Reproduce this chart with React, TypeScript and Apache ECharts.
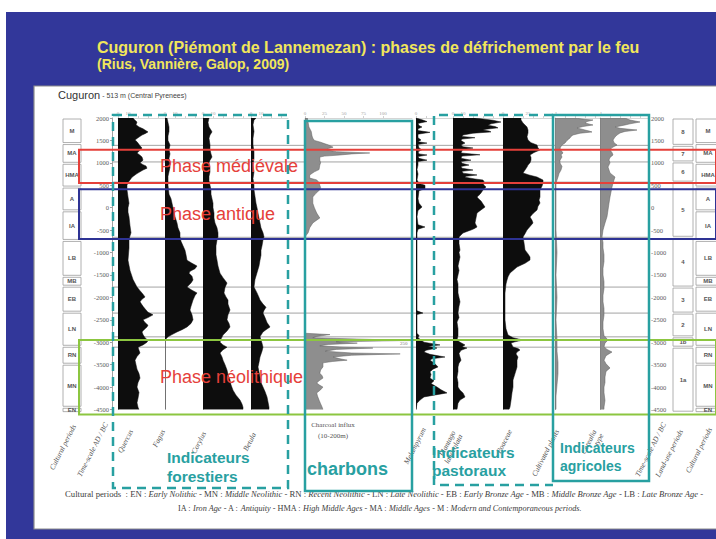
import { useEffect, useRef } from 'react';
import * as echarts from 'echarts';

// ---- time scale (cal. years AD / BC) ----
const TIME_MAX = 2000;
const TIME_MIN = -4500;
const TIME_STEP = 500;

// ---- curves: [age, value] ----
const quercus = [
  [2000, 15], [1950, 17], [1910, 19], [1850, 18], [1800, 21], [1760, 25], [1730, 27], [1690, 30], [1650, 27], [1620, 24],
  [1560, 20], [1510, 17], [1470, 19], [1440, 20], [1380, 22], [1330, 24], [1280, 22], [1220, 19], [1170, 22], [1130, 24],
  [1060, 25], [1000, 22], [960, 25], [930, 28], [880, 29], [840, 25], [800, 22], [760, 19], [730, 17], [680, 14],
  [620, 12], [560, 10], [500, 9], [400, 9], [240, 10], [100, 11], [0, 10], [-100, 10], [-200, 11], [-400, 12],
  [-560, 13], [-700, 11], [-900, 11], [-1170, 10], [-1400, 12], [-1600, 15], [-1770, 19], [-1850, 22], [-1930, 25], [-1990, 27],
  [-2040, 24], [-2100, 22], [-2200, 25], [-2280, 28], [-2330, 30], [-2390, 35], [-2450, 30], [-2500, 25], [-2560, 27], [-2620, 30],
  [-2660, 29], [-2720, 26], [-2770, 24], [-2830, 25], [-2900, 27], [-2960, 30], [-3000, 29], [-3060, 25], [-3110, 20], [-3180, 21],
  [-3240, 22], [-3320, 19], [-3400, 17], [-3500, 18], [-3600, 19], [-3700, 21], [-3800, 22], [-3900, 20], [-4000, 19], [-4120, 21],
  [-4250, 20], [-4350, 19], [-4450, 20], [-4500, 21],
];
const fagus = [
  [2000, 2], [1900, 3], [1800, 4], [1700, 4], [1600, 3], [1500, 3], [1400, 5], [1300, 4], [1200, 5], [1100, 4],
  [1000, 5], [900, 5], [800, 4], [700, 3], [500, 3], [300, 4], [200, 6], [100, 7], [0, 8], [-100, 9],
  [-200, 10], [-340, 12], [-450, 13], [-560, 15], [-650, 15], [-750, 16], [-850, 18], [-950, 20], [-1050, 21], [-1170, 22],
  [-1240, 27], [-1300, 32], [-1360, 30], [-1420, 25], [-1460, 24], [-1530, 27], [-1610, 28], [-1680, 26], [-1770, 22], [-1840, 27],
  [-1900, 32], [-1960, 30], [-2060, 28], [-2200, 26], [-2280, 25], [-2390, 27], [-2500, 28], [-2580, 26], [-2660, 22], [-2720, 17],
  [-2770, 12], [-2830, 7], [-2880, 3], [-2950, 0], [-4500, 0],
];
const corylus = [
  [2000, 6], [1900, 5], [1800, 6], [1730, 8], [1690, 9], [1620, 7], [1550, 6], [1400, 7], [1300, 7], [1200, 8],
  [1130, 9], [1060, 7], [1000, 6], [900, 7], [800, 7], [700, 6], [600, 6], [500, 7], [400, 8], [300, 8],
  [200, 9], [100, 10], [0, 10], [-120, 11], [-230, 11], [-340, 12], [-450, 14], [-560, 15], [-650, 15], [-720, 14],
  [-850, 13], [-1050, 13], [-1170, 14], [-1300, 15], [-1460, 17], [-1560, 20], [-1680, 24], [-1780, 22], [-1900, 21], [-1990, 23],
  [-2060, 25], [-2150, 25], [-2280, 27], [-2390, 25], [-2500, 24], [-2580, 26], [-2660, 27], [-2750, 24], [-2840, 20], [-2930, 18],
  [-3000, 17], [-3060, 20], [-3110, 24], [-3170, 20], [-3240, 17], [-3330, 19], [-3400, 20], [-3500, 22], [-3620, 24], [-3720, 25],
  [-3840, 27], [-3950, 28], [-4070, 30], [-4180, 33], [-4290, 37], [-4380, 39], [-4450, 40], [-4500, 40],
];
const betula = [
  [2000, 5], [1950, 3], [1850, 2], [1700, 3], [1550, 2], [1400, 2], [1250, 3], [1100, 3], [950, 2], [800, 3],
  [650, 2], [500, 3], [400, 3], [250, 4], [100, 5], [0, 6], [-120, 7], [-230, 8], [-340, 9], [-450, 10],
  [-560, 12], [-650, 13], [-720, 12], [-850, 11], [-950, 10], [-1060, 10], [-1170, 9], [-1300, 8], [-1450, 6], [-1600, 4],
  [-1770, 3], [-1900, 6], [-2000, 8], [-2060, 9], [-2150, 12], [-2220, 15], [-2290, 13], [-2350, 12], [-2450, 14], [-2560, 16],
  [-2660, 19], [-2720, 15], [-2770, 12], [-2840, 10], [-2880, 9], [-2950, 10], [-3020, 11], [-3110, 12], [-3200, 11], [-3330, 9],
  [-3450, 8], [-3550, 7], [-3660, 8], [-3780, 9], [-3900, 10], [-4000, 12], [-4100, 14], [-4220, 16], [-4330, 17], [-4450, 18],
  [-4500, 18],
];
const charcoal = [
  [2000, 3], [1900, 4], [1800, 5], [1700, 8], [1600, 9], [1550, 10], [1500, 12], [1460, 20], [1440, 23], [1400, 30],
  [1350, 36], [1320, 30], [1290, 28], [1250, 40], [1220, 83], [1200, 60], [1175, 45], [1150, 25], [1130, 19], [1060, 19],
  [1000, 20], [950, 19], [850, 18], [800, 12], [730, 6], [660, 6], [620, 15], [560, 18], [500, 19], [450, 20],
  [400, 19], [320, 14], [240, 10], [100, 10], [0, 12], [-120, 15], [-230, 19], [-290, 14], [-340, 10], [-450, 6],
  [-560, 4], [-650, 0], [-2800, 0], [-2830, 32], [-2870, 15], [-2900, 10], [-2940, 90], [-2950, 250], [-2965, 120], [-2990, 40],
  [-3020, 67], [-3050, 30], [-3080, 19], [-3110, 50], [-3130, 87], [-3160, 40], [-3200, 26], [-3240, 60], [-3260, 122], [-3290, 60],
  [-3330, 36], [-3370, 45], [-3400, 54], [-3430, 35], [-3460, 23], [-3550, 23], [-3620, 20], [-3690, 19], [-3750, 22], [-3800, 23],
  [-3860, 18], [-3910, 15], [-3960, 19], [-4000, 23], [-4060, 20], [-4130, 15], [-4200, 16], [-4290, 18], [-4370, 20], [-4450, 22],
  [-4500, 23],
];
const melampyrum = [
  [2000, 0], [1960, 6], [1920, 11], [1880, 2], [1830, 3], [1800, 6], [1760, 2], [1720, 2], [1680, 14], [1640, 2],
  [1560, 2], [1510, 5], [1470, 2], [1440, 11], [1410, 2], [1330, 3], [1290, 6], [1250, 2], [1200, 3], [1175, 11],
  [1140, 2], [1100, 3], [1060, 11], [1030, 2], [950, 2], [850, 1], [750, 2], [620, 1], [540, 3], [500, 9],
  [420, 9], [380, 3], [200, 2], [100, 3], [15, 6], [-60, 2], [-200, 1], [-380, 2], [-430, 9], [-480, 2],
  [-560, 1], [-2300, 1], [-2350, 7], [-2380, 1], [-2800, 1], [-2850, 3], [-2900, 2], [-2950, 5], [-3000, 8], [-3060, 24],
  [-3090, 12], [-3130, 21], [-3180, 10], [-3220, 8], [-3270, 14], [-3330, 29], [-3370, 16], [-3400, 14], [-3460, 18], [-3550, 22],
  [-3600, 17], [-3660, 14], [-3720, 15], [-3800, 14], [-3860, 18], [-3920, 15], [-4000, 21], [-4060, 25], [-4130, 31], [-4180, 18],
  [-4220, 8], [-4290, 4], [-4360, 1], [-4500, 0],
];
const plantago = [
  [2000, 22], [1950, 40], [1910, 48], [1870, 38], [1840, 35], [1810, 42], [1780, 45], [1750, 33], [1730, 30], [1710, 36],
  [1690, 38], [1660, 20], [1620, 10], [1590, 9], [1560, 22], [1530, 9], [1500, 8], [1440, 12], [1400, 8], [1360, 10],
  [1330, 20], [1300, 10], [1270, 9], [1220, 8], [1180, 27], [1150, 9], [1100, 8], [1060, 18], [1030, 8], [990, 9],
  [950, 16], [920, 8], [880, 9], [840, 20], [810, 9], [770, 10], [730, 24], [700, 13], [680, 12], [640, 22],
  [617, 30], [580, 31], [550, 30], [500, 31], [461, 33], [420, 31], [394, 30], [330, 28], [300, 27], [238, 24],
  [190, 26], [150, 28], [80, 30], [15, 32], [-50, 28], [-118, 24], [-230, 23], [-341, 22], [-430, 24], [-470, 21],
  [-498, 18], [-530, 14], [-565, 10], [-610, 8], [-654, 6], [-800, 6], [-944, 7], [-1000, 6], [-1100, 7], [-1200, 6],
  [-1300, 5], [-1400, 6], [-1500, 5], [-1600, 4], [-1700, 5], [-1900, 5], [-2000, 6], [-2100, 7], [-2200, 6], [-2350, 5],
  [-2450, 6], [-2550, 4], [-2700, 5], [-2850, 5], [-2950, 4], [-3000, 7], [-3060, 12], [-3100, 9], [-3130, 14], [-3180, 8],
  [-3250, 6], [-3330, 7], [-3400, 8], [-3470, 6], [-3550, 5], [-3650, 5], [-3780, 4], [-3900, 5], [-4000, 5], [-4070, 7],
  [-4130, 10], [-4220, 12], [-4290, 7], [-4360, 5], [-4500, 4],
];
const poaceae = [
  [2000, 18], [1955, 18], [1889, 20], [1800, 24], [1732, 25], [1666, 25], [1580, 24], [1509, 25], [1450, 28], [1398, 34],
  [1330, 35], [1286, 37], [1230, 31], [1175, 27], [1120, 28], [1063, 28], [1000, 27], [950, 25], [907, 24], [840, 22],
  [774, 20], [730, 26], [684, 34], [650, 37], [617, 40], [550, 40], [480, 39], [394, 37], [300, 37], [238, 37],
  [170, 36], [104, 37], [30, 35], [-52, 34], [-130, 30], [-208, 27], [-280, 29], [-341, 30], [-420, 27], [-498, 24],
  [-580, 22], [-654, 20], [-780, 21], [-944, 22], [-1030, 25], [-1100, 27], [-1167, 27], [-1240, 22], [-1323, 14], [-1400, 10],
  [-1457, 7], [-1540, 5], [-1613, 4], [-1700, 3], [-1903, 2], [-2200, 2], [-2505, 2], [-2700, 3], [-2839, 5], [-2900, 10],
  [-2951, 20], [-2990, 12], [-3018, 8], [-3060, 9], [-3107, 10], [-3140, 15], [-3174, 17], [-3220, 14], [-3260, 13], [-3330, 15],
  [-3400, 14], [-3553, 14], [-3700, 12], [-3843, 10], [-4000, 10], [-4125, 9], [-4300, 8], [-4445, 7], [-4500, 6],
];
const cultivated = [
  [2000, 20], [1970, 30], [1955, 38], [1920, 32], [1889, 30], [1860, 35], [1844, 38], [1810, 28], [1777, 22], [1750, 27],
  [1732, 30], [1710, 34], [1688, 37], [1660, 25], [1621, 18], [1590, 16], [1554, 15], [1500, 12], [1442, 10], [1400, 7],
  [1331, 5], [1280, 6], [1220, 8], [1180, 6], [1130, 7], [1060, 5], [996, 5], [920, 7], [840, 6], [760, 4],
  [684, 3], [617, 2], [550, 1], [300, 1], [0, 1], [-500, 1], [-1000, 2], [-1500, 1], [-2000, 2], [-2500, 1],
  [-2950, 2], [-3200, 2], [-3450, 3], [-3700, 3], [-3950, 2], [-4200, 1], [-4500, 1],
];
const cerealia = [
  [2000, 25], [1955, 30], [1911, 40], [1870, 30], [1844, 25], [1800, 15], [1770, 20], [1732, 37], [1700, 25], [1666, 20],
  [1620, 17], [1576, 15], [1509, 13], [1450, 14], [1398, 17], [1340, 12], [1286, 10], [1230, 12], [1175, 13], [1120, 10],
  [1063, 9], [1000, 10], [907, 8], [840, 9], [774, 10], [720, 13], [684, 15], [617, 14], [550, 13], [461, 12],
  [350, 11], [238, 10], [100, 9], [-52, 8], [-200, 7], [-341, 5], [-500, 3], [-654, 2], [-780, 3], [-900, 3],
  [-1050, 4], [-1200, 4], [-1350, 3], [-1500, 3], [-1650, 4], [-1800, 4], [-1950, 3], [-2100, 3], [-2250, 4], [-2400, 4],
  [-2550, 3], [-2700, 3], [-2850, 4], [-2951, 8], [-3020, 5], [-3100, 4], [-3160, 7], [-3219, 12], [-3300, 6], [-3400, 4],
  [-3480, 6], [-3575, 10], [-3650, 6], [-3776, 5], [-3900, 5], [-4000, 4], [-4125, 4], [-4300, 5], [-4445, 4], [-4500, 4],
];

// ---- periods: [label, from, to] ----
const culturalPeriods: [string, number, number][] = [
  ['M', 2000, 1430], ['MA', 1430, 990], ['HMA', 990, 460], ['A', 460, -70], ['IA', -70, -730], ['LB', -730, -1530],
  ['MB', -1530, -1750], ['EB', -1750, -2330], ['LN', -2330, -3090], ['RN', -3090, -3490], ['MN', -3490, -4450], ['EN', -4450, -4570],
];
const landUsePeriods: [string, number, number][] = [
  ['8', 2000, 1390], ['7', 1390, 1020], ['6', 1020, 570], ['5', 570, -660], ['4', -660, -1770],
  ['3', -1770, -2350], ['2', -2350, -2880], ['1b', -2880, -3110], ['1a', -3110, -4560],
];
const zoneBoundaries = [1390, 1020, 570, -660, -1770, -2350, -2880, -3110];
const phases: [string, number, number][] = [
  ['Phase médiévale', 1290, 550],
  ['Phase antique', 410, -700],
  ['Phase néolithique', -2950, -4610],
];

// ---- styling / layout ----
const W = 716;
const H = 539;
const PLOT_TOP = 118;
const PLOT_HEIGHT = 291.5;
const SERIF = '"Liberation Serif", "DejaVu Serif", serif';
const SANS = '"Liberation Sans", Arial, sans-serif';
const NAVY = '#32379a';
const TEAL = '#28a0a1';
const YELLOW = '#f1e65a';
const PHASE_RED = '#e5403a';
const PHASE_COLORS = ['#e5403a', '#2e3394', '#8cc640'];
const INK = '#0d0d0d';
const GREY_FILL = '#8e8e8e';

const panels = [
  { label: ['Quercus'], data: quercus, left: 118, width: 47, pxPerUnit: 1, fill: INK, ticks: [0, 10, 20, 30, 40], tickLabels: [0, 10] },
  { label: ['Fagus'], data: fagus, left: 165, width: 38, pxPerUnit: 1, fill: INK, ticks: [0, 10, 20, 30], tickLabels: [0, 10] },
  { label: ['Corylus'], data: corylus, left: 203, width: 48, pxPerUnit: 1, fill: INK, ticks: [0, 10, 20, 30, 40], tickLabels: [0, 10] },
  { label: ['Betula'], data: betula, left: 251, width: 37, pxPerUnit: 1, fill: INK, ticks: [0, 10, 20, 30], tickLabels: [0, 10] },
  { label: [], data: charcoal, left: 305, width: 107, pxPerUnit: 0.78, fill: GREY_FILL, ticks: [0, 25, 50, 75, 100], tickLabels: [0, 25, 50, 75, 100] },
  { label: ['Melampyrum'], data: melampyrum, left: 416, width: 37, pxPerUnit: 1, fill: INK, ticks: [0, 10], tickLabels: [0] },
  { label: ['Plantago', 'lanceolata'], data: plantago, left: 453, width: 50, pxPerUnit: 1, fill: INK, ticks: [0, 10, 20, 30, 40], tickLabels: [0, 10] },
  { label: ['Poaceae'], data: poaceae, left: 503, width: 50, pxPerUnit: 1, fill: INK, ticks: [0, 10, 20, 30, 40], tickLabels: [0, 25] },
  { label: ['Cultivated plants'], data: cultivated, left: 555, width: 45, pxPerUnit: 1, fill: GREY_FILL, ticks: [0, 10, 20, 30, 40], tickLabels: [0, 1] },
  { label: ['Cerealia', 'type'], data: cerealia, left: 600, width: 48, pxPerUnit: 1, fill: GREY_FILL, ticks: [0, 10, 20, 30, 40], tickLabels: [0, 1] },
];

function timeAxis(gridIndex: number, extra: any = {}) {
  return {
    gridIndex, type: 'value', min: TIME_MIN, max: TIME_MAX, interval: TIME_STEP,
    axisLine: { show: false, onZero: false },
    axisTick: { show: false },
    axisLabel: { show: false },
    splitLine: { show: false },
    ...extra,
  };
}

function buildOption() {
  const grid: any[] = [];
  const xAxis: any[] = [];
  const yAxis: any[] = [];
  const series: any[] = [];
  const gridBox = (left: number, width: number) => ({ left, width, top: PLOT_TOP, height: PLOT_HEIGHT, containLabel: false, outerBoundsMode: 'none' });

  // pollen and charcoal curves
  panels.forEach((p) => {
    const gi = grid.length;
    const xi = xAxis.length;
    const yi = yAxis.length;
    grid.push(gridBox(p.left, p.width));
    xAxis.push({
      gridIndex: gi, type: 'value', min: 0, max: p.width / p.pxPerUnit, position: 'top',
      axisLine: { show: true, onZero: false, lineStyle: { color: '#b8b8b8', width: 0.6 } },
      axisTick: { show: true, length: 2, customValues: p.ticks, lineStyle: { color: '#b0b0b0', width: 0.6 } },
      axisLabel: { show: true, customValues: p.tickLabels, fontSize: 5, color: '#a0a0a0', margin: 2, fontFamily: SERIF },
      splitLine: { show: false },
    });
    yAxis.push(timeAxis(gi, { axisLine: { show: true, onZero: false, lineStyle: { color: '#a5a5a5', width: 0.7 } } }));
    series.push({
      type: 'custom', xAxisIndex: xi, yAxisIndex: yi, clip: true, z: 3, silent: true,
      data: p.data, encode: { x: 1, y: 0 },
      renderItem: (params: any, api: any) => {
        if (params.dataIndex !== 0) return null;
        const n = params.dataInsideLength;
        const pts: number[][] = [api.coord([0, api.value(0, 0)])];
        for (let k = 0; k < n; k++) pts.push(api.coord([api.value(1, k), api.value(0, k)]));
        pts.push(api.coord([0, api.value(0, n - 1)]));
        return {
          type: 'polygon', shape: { points: pts },
          style: { fill: p.fill, stroke: p.fill === INK ? INK : '#5e5e5e', lineWidth: 0.5 },
        };
      },
    });
  });

  // frame: time-scale axes left and right, zone lines
  const frame = grid.length;
  const frameX = xAxis.length;
  const frameY = yAxis.length;
  grid.push(gridBox(112, 536));
  xAxis.push({ gridIndex: frame, type: 'value', min: 0, max: 1, show: false });
  const axisLabelStyle = { fontSize: 6.5, color: '#5a5a5a', fontFamily: SERIF, formatter: (v: number) => String(v) };
  yAxis.push(timeAxis(frame, {
    position: 'left',
    axisLine: { show: true, onZero: false, lineStyle: { color: '#8a8a8a', width: 0.8 } },
    axisTick: { show: true, length: 2, lineStyle: { color: '#8a8a8a', width: 0.8 } },
    axisLabel: { show: true, margin: 3, ...axisLabelStyle },
  }));
  yAxis.push(timeAxis(frame, {
    position: 'right',
    axisLine: { show: true, onZero: false, lineStyle: { color: '#8a8a8a', width: 0.8 } },
    axisTick: { show: true, length: 2, lineStyle: { color: '#8a8a8a', width: 0.8 } },
    axisLabel: { show: true, margin: 3, ...axisLabelStyle },
  }));
  series.push({
    type: 'custom', xAxisIndex: frameX, yAxisIndex: frameY, z: 1, silent: true,
    data: zoneBoundaries.map((a) => [a]), encode: { y: 0 },
    renderItem: (_params: any, api: any) => {
      const a = api.coord([0, api.value(0)]);
      const b = api.coord([1, api.value(0)]);
      return { type: 'line', shape: { x1: a[0], y1: a[1], x2: b[0], y2: b[1] }, style: { stroke: '#a3a3a3', lineWidth: 1 } };
    },
  });

  // period columns (boxes with labels)
  const periodColumn = (left: number, width: number, periods: [string, number, number][]) => {
    const gi = grid.length;
    const xi = xAxis.length;
    const yi = yAxis.length;
    grid.push(gridBox(left, width));
    xAxis.push({ gridIndex: gi, type: 'value', min: 0, max: 1, show: false });
    yAxis.push(timeAxis(gi, { show: false }));
    series.push({
      type: 'custom', xAxisIndex: xi, yAxisIndex: yi, z: 2, silent: true,
      data: periods.map((p) => [p[1], p[2]]), encode: { y: [0, 1] },
      renderItem: (params: any, api: any) => {
        const a = api.coord([0, api.value(0)]);
        const b = api.coord([1, api.value(1)]);
        return {
          type: 'group',
          children: [
            { type: 'rect', shape: { x: a[0], y: a[1] + 1, width: b[0] - a[0], height: b[1] - a[1] - 2 }, style: { fill: '#fff', stroke: '#9c9c9c', lineWidth: 0.8 } },
            { type: 'text', x: (a[0] + b[0]) / 2, y: (a[1] + b[1]) / 2, style: { text: periods[params.dataIndex][0], fill: '#555', fontSize: 6, fontWeight: 'bold', fontFamily: SANS, align: 'center', verticalAlign: 'middle' } },
          ],
        };
      },
    });
  };
  periodColumn(63, 18, culturalPeriods);
  periodColumn(673, 20, landUsePeriods);
  periodColumn(696, 24, culturalPeriods);

  // clearance phases
  const ov = grid.length;
  const ovX = xAxis.length;
  const ovY = yAxis.length;
  grid.push(gridBox(79, 637));
  xAxis.push({ gridIndex: ov, type: 'value', min: 0, max: 1, show: false });
  yAxis.push(timeAxis(ov, { show: false }));
  series.push({
    type: 'custom', xAxisIndex: ovX, yAxisIndex: ovY, z: 20, silent: true,
    data: phases.map((p) => [p[1], p[2]]), encode: { y: [0, 1] },
    renderItem: (params: any, api: any) => {
      const a = api.coord([0, api.value(0)]);
      const b = api.coord([1, api.value(1)]);
      const t = api.coord([0.127, (api.value(0) + api.value(1)) / 2]);
      return {
        type: 'group',
        children: [
          { type: 'rect', shape: { x: a[0], y: a[1], width: b[0] - a[0], height: b[1] - a[1] }, style: { fill: 'none', stroke: PHASE_COLORS[params.dataIndex], lineWidth: 2 } },
          { type: 'text', x: t[0], y: t[1], style: { text: phases[params.dataIndex][0], fill: PHASE_RED, fontSize: 18, fontFamily: SANS, align: 'left', verticalAlign: 'middle' } },
        ],
      };
    },
  });

  // annotations
  const rotLabel = (lines: string[], x: number, y: number) => ({
    type: 'text', x, y, rotation: 1.1, z: 60,
    style: { text: lines.join('\n'), fill: '#555', font: `italic 7.5px ${SERIF}`, align: 'right', verticalAlign: 'middle', lineHeight: 8 },
  });
  const labelAnchors: [number, number][] = [[131, 430], [163, 430], [204, 432], [254, 433], [0, 0], [424, 428], [457, 433], [510, 430], [557, 430], [598, 432]];
  const columnLabels = panels
    .map((p, i) => (p.label.length ? rotLabel(p.label, labelAnchors[i][0], labelAnchors[i][1]) : null))
    .filter(Boolean);

  const tealText = (text: string, x: number, y: number, size: number) => ({
    type: 'text', x, y, z: 120,
    style: { text, fill: TEAL, font: `bold ${size}px ${SANS}`, align: 'left', verticalAlign: 'middle' },
  });

  const italic = { fontStyle: 'italic', fontSize: 8.5, fontFamily: SERIF, fill: '#3c3c3c' };
  const italicSmall = { fontStyle: 'italic', fontSize: 8.2, fontFamily: SERIF, fill: '#3c3c3c' };
  const footer1 = 'Cultural periods  : EN : {i|Early Nolithic} - MN : {i|Middle Neolithic} - RN : {i|Recent Neolithic} - LN : {i|Late Neolithic} - EB : {i|Early Bronze Age} - MB : {i|Middle Bronze Age} - LB : {i|Late Bronze Age} -';
  const footer2 = 'IA : {i|Iron Age} - A : {i|Antiquity} - HMA : {i|High Middle Ages} - MA : {i|Middle Ages} - M : {i|Modern and Contemporaneous periods.}';

  const graphic = [
    { type: 'rect', z: -20, silent: true, shape: { x: 6, y: 12, width: W - 6, height: H - 12 }, style: { fill: NAVY } },
    { type: 'rect', z: -19, silent: true, shape: { x: 34, y: 86, width: W, height: 443 }, style: { fill: '#ffffff', stroke: '#8c8c8c', lineWidth: 1.2 } },
    { type: 'text', x: 97, y: 47, z: 60, style: { text: 'Cuguron (Piémont de Lannemezan) : phases de défrichement par le feu', fill: YELLOW, font: `bold 16px ${SANS}`, verticalAlign: 'middle' } },
    { type: 'text', x: 97, y: 64, z: 60, style: { text: '(Rius, Vannière, Galop, 2009)', fill: YELLOW, font: `bold 14px ${SANS}`, verticalAlign: 'middle' } },
    {
      type: 'text', x: 58, y: 95, z: 60,
      style: {
        text: '{a|Cuguron}{b| - 513 m (Central Pyrenees)}', verticalAlign: 'middle',
        rich: { a: { fontSize: 11, fontFamily: SANS, fill: '#333' }, b: { fontSize: 7, fontFamily: SANS, fill: '#444' } },
      },
    },
    // charcoal caption and clipped peak value
    { type: 'text', x: 333, y: 425, z: 60, style: { text: 'Charcoal influx', fill: '#555', font: `7px ${SERIF}`, align: 'center', verticalAlign: 'middle' } },
    { type: 'text', x: 333, y: 436, z: 60, style: { text: '(10-200m)', fill: '#555', font: `7px ${SERIF}`, align: 'center', verticalAlign: 'middle' } },
    { type: 'text', x: 400, y: 343, z: 60, style: { text: '250', fill: '#777', font: `5px ${SERIF}`, align: 'left', verticalAlign: 'middle' } },
    // axis column captions
    rotLabel(['Cultural periods'], 74, 425),
    rotLabel(['Time-scale AD / BC'], 106, 423),
    ...columnLabels,
    rotLabel(['Time-scale AD / BC'], 664, 423),
    rotLabel(['Land-use periods'], 681, 430),
    rotLabel(['Cultural periods'], 710, 428),
    // indicator groups
    { type: 'rect', z: 110, silent: true, shape: { x: 113, y: 115, width: 175, height: 373 }, style: { fill: 'none', stroke: TEAL, lineWidth: 2.5, lineDash: [9, 6] } },
    { type: 'rect', z: 110, silent: true, shape: { x: 305, y: 121, width: 107, height: 370 }, style: { fill: 'none', stroke: TEAL, lineWidth: 2.5 } },
    { type: 'polyline', z: 110, silent: true, shape: { points: [[553, 115], [434, 115], [434, 485], [553, 485]] }, style: { fill: 'none', stroke: TEAL, lineWidth: 2.5, lineDash: [9, 6] } },
    { type: 'rect', z: 110, silent: true, shape: { x: 553, y: 115, width: 96, height: 366 }, style: { fill: 'none', stroke: TEAL, lineWidth: 2.5 } },
    tealText('Indicateurs', 167, 457, 15.5),
    tealText('forestiers', 167, 476, 15.5),
    tealText('charbons', 307, 469, 18),
    tealText('Indicateurs', 432, 452, 15.5),
    tealText('pastoraux', 432, 470, 15.5),
    tealText('Indicateurs', 560, 448, 14),
    tealText('agricoles', 560, 466, 14),
    // footer
    {
      type: 'text', x: 65, y: 494, z: 60,
      style: { text: footer1, verticalAlign: 'middle', fill: '#3c3c3c', font: `8.7px ${SERIF}`, rich: { i: italic } },
    },
    {
      type: 'text', x: 178, y: 508, z: 60,
      style: { text: footer2, verticalAlign: 'middle', fill: '#3c3c3c', font: `8.2px ${SERIF}`, rich: { i: italicSmall } },
    },
  ];

  return {
    animation: false,
    backgroundColor: '#ffffff',
    grid, xAxis, yAxis, series,
    graphic: { elements: graphic },
  };
}

export default function App() {
  const ref = useRef<HTMLDivElement>(null);
  useEffect(() => {
    if (!ref.current) return;
    const chart = echarts.init(ref.current, null, { renderer: 'svg' });
    chart.setOption(buildOption() as any);
    return () => chart.dispose();
  }, []);
  return <div ref={ref} style={{ position: 'fixed', left: 0, top: 0, width: W, height: H }} />;
}
